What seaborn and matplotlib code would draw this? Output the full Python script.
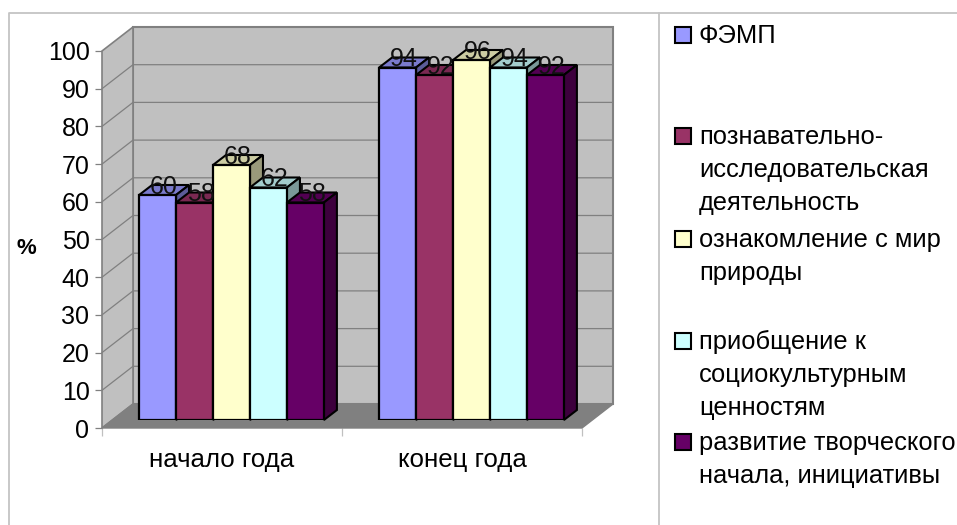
import matplotlib
matplotlib.use("Agg")
import matplotlib.pyplot as plt
import pandas as pd
import seaborn as sns
from matplotlib.lines import Line2D
from matplotlib.patches import Polygon, Rectangle

# data
periods = ["начало года", "конец года"]
series_names = [
    "ФЭМП",
    "познавательно-\nисследовательская\nдеятельность",
    "ознакомление с мир\nприроды",
    "приобщение к\nсоциокультурным\nценностям",
    "развитие творческого\nначала, инициативы",
]
start_values = [60, 58, 68, 62, 58]
end_values = [94, 92, 96, 94, 92]
y_ticks = [0, 10, 20, 30, 40, 50, 60, 70, 80, 90, 100]
colors = ["#9999FF", "#993366", "#FFFFCC", "#CCFFFF", "#660066"]

W, H = 957, 525

df = pd.DataFrame({
    "period": [periods[0]] * 5 + [periods[1]] * 5,
    "series": series_names * 2,
    "value": start_values + end_values,
})


def shade(hex_color, k):
    r, g, b = matplotlib.colors.to_rgb(hex_color)
    return (r * k, g * k, b * k)


def rect_px(left, top, right, bottom):
    # pixel box (origin top left) -> figure fraction
    return [left / W, 1 - bottom / H, (right - left) / W, (bottom - top) / H]


sns.set_theme(style="white")
plt.rcParams["font.family"] = ["Liberation Sans", "DejaVu Sans"]

fig = plt.figure(figsize=(W / 100, H / 100), dpi=100, facecolor="white")

# outer frame of the chart area
frame = "#c4c4c4"
fig.add_artist(Line2D([9 / W, 9 / W, 1], [0, 1 - 13 / H, 1 - 13 / H], color=frame, lw=1.3))
fig.add_artist(Line2D([659 / W, 659 / W], [0, 1 - 13 / H], color=frame, lw=1.3))

# walls, front plane of the box
ax = fig.add_axes(rect_px(102, 51, 582, 428))
ax.set_xlim(0, 2)
ax.set_ylim(0, 100)
ax.patch.set_visible(False)
for s in ax.spines.values():
    s.set_visible(False)

wall_dx = 31 * 2 / 480
wall_dy = 24 * 100 / 377
grey = "#808080"
ax.add_patch(Polygon([(wall_dx, wall_dy), (2 + wall_dx, wall_dy), (2 + wall_dx, 100 + wall_dy), (wall_dx, 100 + wall_dy)],
                     fc="#c0c0c0", ec=grey, lw=1.5, clip_on=False, zorder=1))
ax.add_patch(Polygon([(0, 0), (wall_dx, wall_dy), (wall_dx, 100 + wall_dy), (0, 100)],
                     fc="#c0c0c0", ec=grey, lw=1.2, clip_on=False, zorder=1))
ax.add_patch(Polygon([(0, 0), (2, 0), (2 + wall_dx, wall_dy), (wall_dx, wall_dy)],
                     fc=grey, ec=grey, lw=1, clip_on=False, zorder=2))
for t in y_ticks[1:-1]:
    ax.plot([0, wall_dx, 2 + wall_dx], [t, t + wall_dy, t + wall_dy], color=grey, lw=0.9, clip_on=False, zorder=1.5)

ax.set_xticks([0, 1, 2])
ax.set_xticklabels([])
ax.set_yticks(y_ticks)
ax.tick_params(axis="y", length=5, width=0.9, color=grey, left=True, pad=4, labelsize=18, labelcolor="black")
ax.tick_params(axis="x", length=6, width=0.9, color="#c0c0c0", bottom=True)
for lab in ax.get_yticklabels():
    lab.set_va("center_baseline")
for i, name in enumerate(periods):
    ax.text(i + 0.5, -8.5, name, ha="center", va="center", fontsize=18.6, color="black", clip_on=False)
fig.text(26 / W, 1 - 248 / H, "%", fontsize=16, fontweight="bold", ha="center", va="center", color="black")

# bars sit a little inside the box
ax_bars = fig.add_axes(rect_px(111.5, 45, 591.5, 420))
ax_bars.patch.set_visible(False)
sns.barplot(data=df, x="period", y="value", hue="series", hue_order=series_names, order=periods,
            palette=colors, saturation=1, width=0.77, gap=0, edgecolor="black", linewidth=1.6,
            legend=False, ax=ax_bars)
ax_bars.set_xlim(-0.5, 1.5)
ax_bars.set_ylim(0, 100)
ax_bars.axis("off")

bar_dx = 13 / 240
bar_dy = 10 / 3.75
for i, container in enumerate(ax_bars.containers):
    for p in container.patches:
        x0, x1, h = p.get_x(), p.get_x() + p.get_width(), p.get_height()
        z = 3 + i * 2
        p.set_zorder(z + 1)
        ax_bars.add_patch(Polygon([(x0, h), (x1, h), (x1 + bar_dx, h + bar_dy), (x0 + bar_dx, h + bar_dy)],
                                  fc=shade(colors[i], 0.8), ec="black", lw=1.5, clip_on=False, zorder=z))
        ax_bars.add_patch(Polygon([(x1, 0), (x1 + bar_dx, bar_dy), (x1 + bar_dx, h + bar_dy), (x1, h)],
                                  fc=shade(colors[i], 0.6), ec="black", lw=1.5, clip_on=False, zorder=z))
        ax_bars.text((x0 + x1 + bar_dx) / 2, h + bar_dy - 0.5, f"{h:.0f}", ha="center", va="center",
                     fontsize=18, color="#111111", zorder=20, clip_on=False)

# legend, spaced by hand like the original
legend_y = [35, 136, 239, 341, 442]
line_step = 33
for name, col, y in zip(series_names, colors, legend_y):
    fig.add_artist(Rectangle((675 / W, 1 - (y + 8) / H), 16 / W, 16 / H, transform=fig.transFigure,
                             fc=col, ec="black", lw=1.5))
    for j, line in enumerate(name.split("\n")):
        fig.text(699 / W, 1 - (y + 1 + j * line_step) / H, line, fontsize=18.4, ha="left", va="center", color="black")

fig.savefig("out.png", dpi=100, facecolor="white")
